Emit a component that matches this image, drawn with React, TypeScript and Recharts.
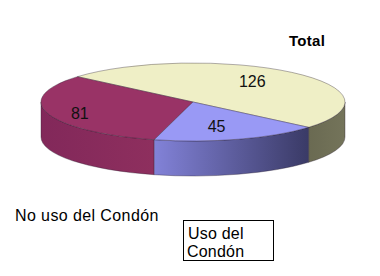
import React from 'react';
import { PieChart, Pie } from 'recharts';

// slices, counter-clockwise from the right-hand edge
const categories = ['Total', 'No uso del Condón', 'Uso del Condón'];
const values = [126, 81, 45];

const topColors = ['#efefc6', '#993366', '#9999f5'];
const sideColors: [string, string][] = [
  ['#6a6a52', '#74745a'],
  ['#82285a', '#8e2f5e'],
  ['#8282d8', '#3a3a66'],
];
const labelRadius = [0.6, 0.78, 0.52];

const W = 380;
const H = 276;
const CX = 193;
const CY = 102;
const RX = 152;
const RY = 39;
const DEPTH = 35;
const RAD = Math.PI / 180;

const data = categories.map((name, idx) => ({ name, value: values[idx], idx }));

const pt = (cx: number, cy: number, a: number, f = 1) => [
  cx + RX * f * Math.cos(a * RAD),
  cy - RY * f * Math.sin(a * RAD),
];

// part of [a0, a1] that faces the viewer (lower half of the ellipse)
const frontPart = (a0: number, a1: number) => {
  for (const [lo, hi] of [[-180, 0], [180, 360], [540, 720]]) {
    const s = Math.max(a0, lo);
    const e = Math.min(a1, hi);
    if (e > s) return [s, e];
  }
  return null;
};

const Slice3D = (props: any) => {
  const { cx, cy, startAngle, endAngle } = props;
  const idx = props.payload?.idx ?? props.idx ?? 0;
  const a0 = Math.min(startAngle, endAngle);
  const a1 = Math.max(startAngle, endAngle);
  const [sx, sy] = pt(cx, cy, a0);
  const [ex, ey] = pt(cx, cy, a1);
  const large = a1 - a0 > 180 ? 1 : 0;
  const top = `M${cx},${cy} L${sx},${sy} A${RX},${RY} 0 ${large} 0 ${ex},${ey} Z`;

  let side = null;
  const fp = frontPart(a0, a1);
  if (fp) {
    const [p0x, p0y] = pt(cx, cy, fp[0]);
    const [p1x, p1y] = pt(cx, cy, fp[1]);
    side = `M${p0x},${p0y} A${RX},${RY} 0 0 0 ${p1x},${p1y} L${p1x},${p1y + DEPTH} A${RX},${RY} 0 0 1 ${p0x},${p0y + DEPTH} Z`;
  }

  return (
    <g>
      <defs>
        <linearGradient id={`side-${idx}`} x1="0" y1="0" x2="1" y2="0">
          <stop offset="0%" stopColor={sideColors[idx][0]} />
          <stop offset="100%" stopColor={sideColors[idx][1]} />
        </linearGradient>
      </defs>
      {side && <path d={side} fill={`url(#side-${idx})`} stroke="#2a2030" strokeOpacity={0.45} strokeWidth={0.8} />}
      <path d={top} fill={topColors[idx]} stroke="#2a2030" strokeOpacity={0.45} strokeWidth={0.8} />
    </g>
  );
};

const renderLabel = (props: any) => {
  const { cx, cy, midAngle, value } = props;
  const idx = props.payload?.idx ?? props.index ?? 0;
  const f = labelRadius[idx];
  const x = cx + RX * f * Math.cos(midAngle * RAD);
  const y = cy - RY * f * 1.2 * Math.sin(midAngle * RAD) + 1;
  return (
    <text x={x} y={y} textAnchor="middle" dominantBaseline="central" fontSize={16} fill="#111" fontFamily="'Liberation Sans', Arial, sans-serif">
      {value}
    </text>
  );
};

export default function App() {
  const font = "'Liberation Sans', Arial, sans-serif";
  return (
    <div style={{ position: 'relative', width: W, height: H, background: '#fff' }}>
      <style>{'body{margin:0}'}</style>
      <PieChart width={W} height={H} margin={{ top: 0, right: 0, bottom: 0, left: 0 }}>
        <Pie
          data={data}
          dataKey="value"
          nameKey="name"
          cx={CX}
          cy={CY}
          outerRadius={RX}
          startAngle={-40.5}
          endAngle={319.5}
          stroke="none"
          shape={Slice3D}
          label={renderLabel}
          labelLine={false}
          isAnimationActive={false}
        />
      </PieChart>
      <svg width={W} height={H} style={{ position: 'absolute', left: 0, top: 0, pointerEvents: 'none' }}>
        <text x={289} y={46} fontFamily={font} fontSize={15} fontWeight="bold" fill="#000" letterSpacing={0.3}>
          {categories[0]}
        </text>
        <text x={15} y={221} fontFamily={font} fontSize={16} fill="#000" letterSpacing={0.4}>
          {categories[1]}
        </text>
        <rect x={183.5} y={220.5} width={90} height={40} fill="#fff" stroke="#000" strokeWidth={1} />
        <text x={188} y={239} fontFamily={font} fontSize={16} fill="#000" letterSpacing={0.2}>
          {categories[2].split(' ').slice(0, 2).join(' ')}
        </text>
        <text x={187} y={256.5} fontFamily={font} fontSize={16} fill="#000" letterSpacing={0.2}>
          {categories[2].split(' ').slice(2).join(' ')}
        </text>
      </svg>
    </div>
  );
}
